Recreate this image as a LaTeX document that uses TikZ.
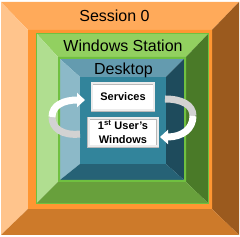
\documentclass[tikz,border=0pt]{standalone}
\usepackage{fontspec}
\setmainfont{Liberation Sans}
\usetikzlibrary{arrows.meta}

\definecolor{sesTop}{HTML}{FFAA5A}
\definecolor{sesLeft}{HTML}{FFC48C}
\definecolor{sesRight}{HTML}{9B5A1E}
\definecolor{sesBot}{HTML}{CD7A2A}
\definecolor{sesFlat}{HTML}{FF9632}
\definecolor{staTop}{HTML}{92D060}
\definecolor{staLeft}{HTML}{B0DE90}
\definecolor{staRight}{HTML}{4A7A28}
\definecolor{staBot}{HTML}{68A03C}
\definecolor{staLine}{HTML}{70C040}
\definecolor{dskTop}{HTML}{649BAF}
\definecolor{dskLeft}{HTML}{8CB9C8}
\definecolor{dskRight}{HTML}{1E4B5C}
\definecolor{dskBot}{HTML}{266276}
\definecolor{dskFlat}{HTML}{32849B}

\begin{document}
\begin{tikzpicture}[
    x=1pt, y=1pt,
    title/.style={anchor=base, inner sep=0pt, font=\fontsize{16}{18}\selectfont},
    winbox/.style={fill=white, draw=gray!55, double=gray!15, double distance=2pt,
                   align=center, inner sep=0pt, font=\bfseries\fontsize{11}{14}\selectfont},
    turn/.style={line width=7pt},
    turnhead/.style={line width=7pt, white, -{Triangle[length=8pt, width=14pt]}}
]
\useasboundingbox (0,0) rectangle (240,237);
% bevelled frames: outer x/y, outer X/Y, inner u/v, inner U/V
\foreach \x/\y/\X/\Y/\u/\v/\U/\V/\ctop/\cleft/\cright/\cbot in {
    1/2/239/235/28/28/212/207/sesTop/sesLeft/sesRight/sesBot,
    36/33/209/204/58/55/186/180/staTop/staLeft/staRight/staBot,
    60/57/184/178/80/73/166/160/dskTop/dskLeft/dskRight/dskBot}{
  \fill[\ctop] (\x,\Y) -- (\X,\Y) -- (\U,\V) -- (\u,\V) -- cycle;
  \fill[\cleft] (\x,\y) -- (\x,\Y) -- (\u,\V) -- (\u,\v) -- cycle;
  \fill[\cright] (\X,\y) -- (\X,\Y) -- (\U,\V) -- (\U,\v) -- cycle;
  \fill[\cbot] (\x,\y) -- (\X,\y) -- (\U,\v) -- (\u,\v) -- cycle;
}
% flat bands between the frames
\fill[sesFlat, even odd rule] (28,28) rectangle (212,207) (36,33) rectangle (209,204);
\draw[staLine, line width=1.2pt] (36.6,33.6) rectangle (208.4,203.4);
\fill[staLine, even odd rule] (58,55) rectangle (186,180) (60,57) rectangle (184,178);
\fill[dskFlat] (80,73) rectangle (166,160);

\node[title] (session) at (114.5,215) {Session 0};
\node[title] (station) at (123,185) {Windows Station};
\node[title] (desktop) at (123.5,162) {Desktop};

\node[winbox, minimum width=62pt, minimum height=27pt] (services) at (123,140) {Services};
\node[winbox, minimum width=69pt, minimum height=28pt] (userwin) at (123,104.5) {1\textsuperscript{st} User's\\Windows};

\coordinate (lTail) at (80,103);
\coordinate (lMid) at (52,120);
\coordinate (lHead) at (85,137);
\coordinate (rTail) at (165,138);
\coordinate (rMid) at (193,121);
\coordinate (rHead) at (160,100);

\draw[turn, gray!35] (lTail) .. controls (62,101) and (52,109) .. (lMid);
\draw[turnhead] (lMid) .. controls (52,132) and (64,137) .. (lHead);
\draw[turn, gray!35] (rTail) .. controls (182,138) and (193,132) .. (rMid);
\draw[turnhead] (rMid) .. controls (193,108) and (182,100) .. (rHead);
\end{tikzpicture}
\end{document}
